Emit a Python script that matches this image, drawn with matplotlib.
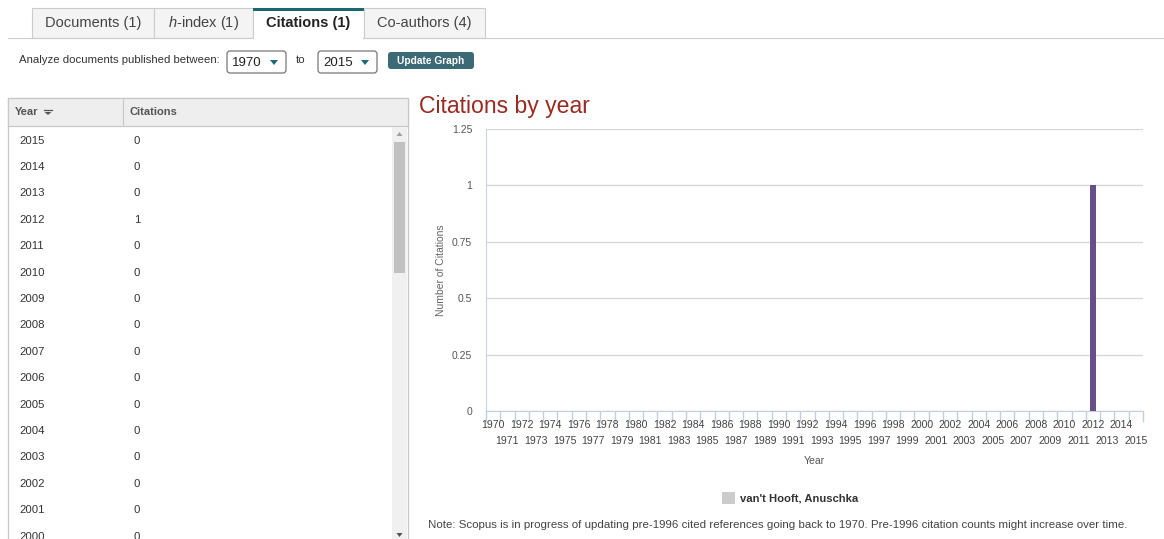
import matplotlib
matplotlib.use("Agg")
import matplotlib.pyplot as plt
from matplotlib.patches import Rectangle, FancyBboxPatch, Polygon

plt.rcParams['font.family'] = ['Liberation Sans', 'DejaVu Sans']
plt.rcParams['mathtext.fontset'] = 'custom'
plt.rcParams['mathtext.it'] = 'Liberation Sans:italic'
plt.rcParams['mathtext.rm'] = 'Liberation Sans'

# data
years = [1970, 1971, 1972, 1973, 1974, 1975, 1976, 1977, 1978, 1979,
         1980, 1981, 1982, 1983, 1984, 1985, 1986, 1987, 1988, 1989,
         1990, 1991, 1992, 1993, 1994, 1995, 1996, 1997, 1998, 1999,
         2000, 2001, 2002, 2003, 2004, 2005, 2006, 2007, 2008, 2009,
         2010, 2011, 2012, 2013, 2014, 2015]
citations = [0, 0, 0, 0, 0, 0, 0, 0, 0, 0,
             0, 0, 0, 0, 0, 0, 0, 0, 0, 0,
             0, 0, 0, 0, 0, 0, 0, 0, 0, 0,
             0, 0, 0, 0, 0, 0, 0, 0, 0, 0,
             0, 0, 1, 0, 0, 0]
y_ticks = [0, 0.25, 0.5, 0.75, 1, 1.25]
y_tick_labels = ["0", "0.25", "0.5", "0.75", "1", "1.25"]
tabs = ["Documents (1)", r"$\mathit{h}$-index (1)", "Citations (1)", "Co-authors (4)"]
author = "van't Hooft, Anuschka"
note = ("Note: Scopus is in progress of updating pre-1996 cited references going back to 1970. "
        "Pre-1996 citation counts might increase over time.")

W, H = 1164, 539
fig = plt.figure(figsize=(W / 100, H / 100), dpi=100)
fig.patch.set_facecolor("white")

# background axes in pixel coords for the page bits
bg = fig.add_axes([0, 0, 1, 1])
bg.set_xlim(0, W)
bg.set_ylim(H, 0)
bg.axis("off")

# tabs
tab_edges = [32, 154, 253, 364, 485]
for i, label in enumerate(tabs):
    x0, x1 = tab_edges[i], tab_edges[i + 1]
    active = (i == 2)
    bg.add_patch(Rectangle((x0, 8), x1 - x0, 30, facecolor="white" if active else "#f4f4f4",
                           edgecolor="#cccccc", lw=0.8))
    if active:
        bg.add_patch(Rectangle((x0, 8), x1 - x0, 3, facecolor="#1d6670", edgecolor="none"))
    bg.text((x0 + x1) / 2, 23, label, ha="center", va="center", fontsize=10.5,
            color="#222222" if active else "#444444", fontweight="bold" if active else "normal")
bg.plot([8, 253], [38, 38], color="#cccccc", lw=0.8)
bg.plot([364, W], [38, 38], color="#cccccc", lw=0.8)
bg.add_patch(Rectangle((254, 36), 109, 4, facecolor="white", edgecolor="none"))

# year range row
bg.text(19, 60, "Analyze documents published between:", ha="left", va="center", fontsize=8.2, color="#333333")
for x0, val in [(227, "1970"), (318, "2015")]:
    bg.add_patch(FancyBboxPatch((x0, 51), 59, 22, boxstyle="round,pad=0,rounding_size=3",
                                facecolor="white", edgecolor="#777777", lw=0.9))
    bg.text(x0 + 5, 62.5, val, ha="left", va="center", fontsize=9.5, color="#222222")
    ax_ = x0 + 47
    bg.add_patch(Polygon([[ax_ - 4, 60], [ax_ + 4, 60], [ax_, 65]], closed=True,
                         facecolor="#1f6a77", edgecolor="none"))
bg.text(301, 60, "to", ha="center", va="center", fontsize=8.2, color="#333333")
bg.add_patch(FancyBboxPatch((388, 52), 86, 17, boxstyle="round,pad=0,rounding_size=3",
                            facecolor="#3b6a76", edgecolor="none"))
bg.text(431, 60.5, "Update Graph", ha="center", va="center", fontsize=7.3, color="white", fontweight="bold")

# table
bg.add_patch(Rectangle((8, 98), 400, 460, facecolor="white", edgecolor="#c8c8c8", lw=0.9))
bg.add_patch(Rectangle((8, 98), 400, 28, facecolor="#eeeeee", edgecolor="#c8c8c8", lw=0.9))
bg.plot([123, 123], [98, 126], color="#c8c8c8", lw=0.8)
bg.text(15, 112, "Year", ha="left", va="center", fontsize=8, color="#555555", fontweight="bold")
bg.plot([44, 52], [110, 110], color="#555555", lw=0.9)
bg.add_patch(Polygon([[44.5, 112], [51.5, 112], [48, 115]], closed=True, facecolor="#555555", edgecolor="none"))
bg.text(129, 112, "Citations", ha="left", va="center", fontsize=8, color="#555555", fontweight="bold")

# scrollbar
bg.add_patch(Rectangle((392, 127), 15, 420, facecolor="#f0f0f0", edgecolor="none"))
bg.add_patch(Rectangle((394, 142), 11, 131, facecolor="#c1c1c1", edgecolor="none"))
bg.add_patch(Polygon([[396.5, 136], [402.5, 136], [399.5, 132]], closed=True, facecolor="#a0a0a0", edgecolor="none"))
bg.add_patch(Polygon([[396.5, 533], [402.5, 533], [399.5, 537]], closed=True, facecolor="#505050", edgecolor="none"))

row_h = 26.4
for i, (yr, c) in enumerate(zip(years[::-1], citations[::-1])):
    yy = 140.5 + i * row_h
    if yy > H + 10:
        break
    bg.text(19, yy, str(yr), ha="left", va="center", fontsize=8.2, color="#333333")
    bg.text(134, yy, str(c), ha="left", va="center", fontsize=8.2, color="#333333")

# title
bg.text(419, 106, "Citations by year", ha="left", va="center", fontsize=16.6, color="#992b20")

# legend + note
bg.add_patch(Rectangle((722, 492), 13, 12, facecolor="#cccccc", edgecolor="none"))
bg.text(740, 498.5, author, ha="left", va="center", fontsize=8.1, color="#333333", fontweight="bold")
bg.text(428, 525, note, ha="left", va="center", fontsize=8.25, color="#444444")

# chart
px_l, px_r, px_t, px_b = 486, 1143, 129, 411
ph = px_b - px_t
ax = fig.add_axes([px_l / W, 1 - px_b / H, (px_r - px_l) / W, ph / H])
ax.set_facecolor("none")
idx = list(range(len(years)))
ax.bar(idx, citations, width=0.48, color="#684f89", zorder=3)
ax.set_xlim(-0.5, len(years) - 0.5)
ax.set_ylim(0, 1.25)
ax.set_yticks(y_ticks)
ax.set_yticklabels(y_tick_labels)
ax.yaxis.grid(True, color="#d8d8d8", lw=1)
ax.set_axisbelow(True)
for s in ["top", "right"]:
    ax.spines[s].set_visible(False)
ax.spines["left"].set_color("#c8d4e2")
ax.spines["bottom"].set_color("#c0d0e0")
ax.tick_params(axis="y", length=0, pad=10, labelsize=7.5, labelcolor="#555555")

# x ticks at category edges, labels staggered on two rows
ax.set_xticks([k - 0.5 for k in range(len(years) + 1)])
ax.set_xticklabels([])
ax.tick_params(axis="x", length=8, color="#c0d0e0", width=1)
tr = ax.get_xaxis_transform()
for k, yr in enumerate(years):
    yoff = -14.5 / ph if k % 2 == 0 else -30.5 / ph
    ax.text(k, yoff, str(yr), transform=tr, ha="center", va="center",
            fontsize=7.6, color="#444444", clip_on=False)
ax.text(0.5, -50 / ph, "Year", transform=ax.transAxes, ha="center", va="center",
        fontsize=7.5, color="#555555")

ax.set_ylabel("Number of Citations", fontsize=7.5, color="#666666", labelpad=4)

fig.savefig("out.png", dpi=100, facecolor="white")
